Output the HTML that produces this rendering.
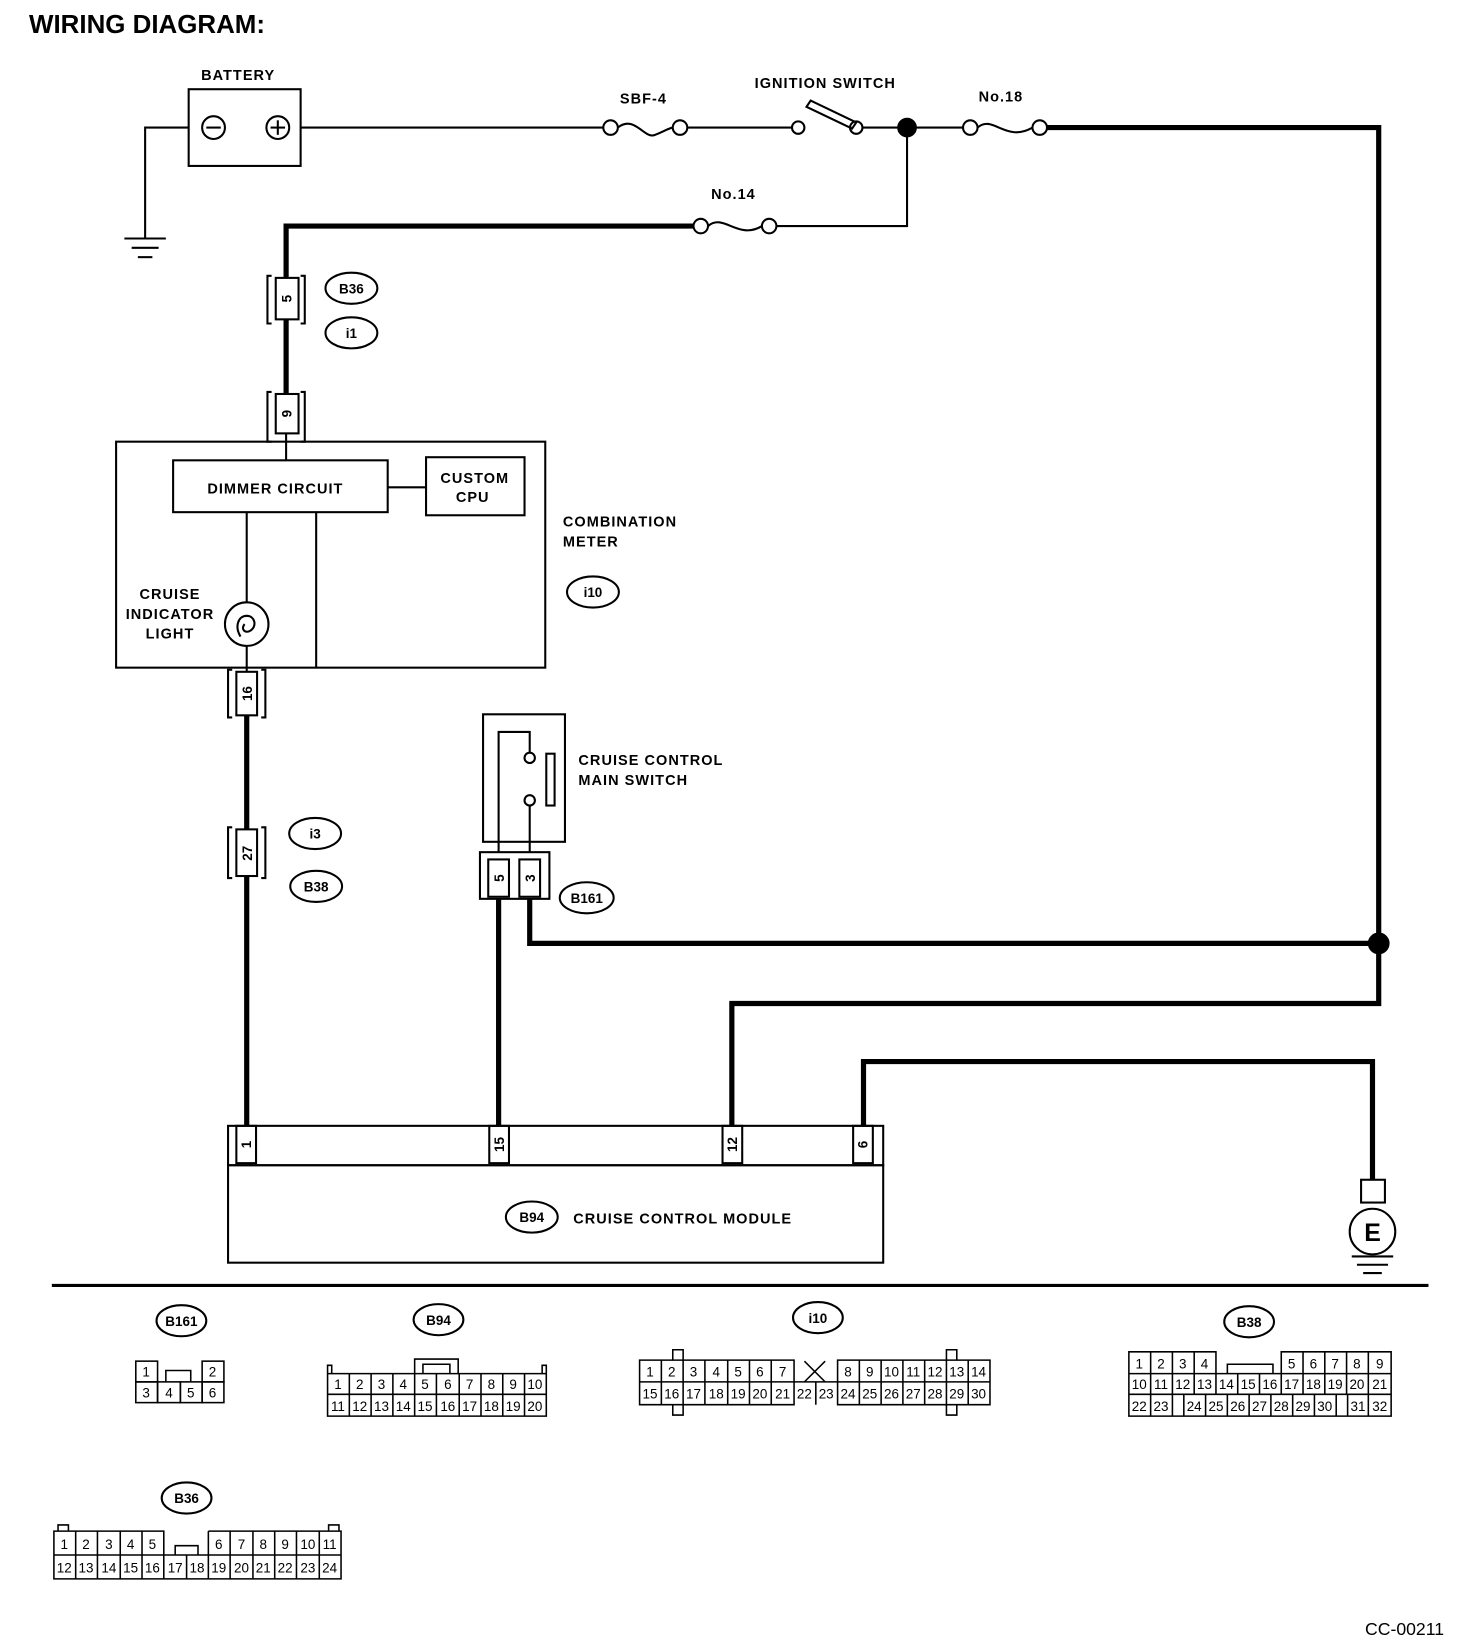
<!DOCTYPE html>
<html><head><meta charset="utf-8"><style>
html,body{margin:0;padding:0;background:#fff;}
svg{display:block;}
text{font-family:"Liberation Sans",sans-serif;fill:#000;}
.l{font-size:14px;font-weight:bold;letter-spacing:1px;}
.p{font-size:13px;text-anchor:middle;}
.o{font-size:13px;font-weight:bold;text-anchor:middle;}
</style></head><body>
<svg width="1472" height="1638" viewBox="0 0 1420 1580" xmlns="http://www.w3.org/2000/svg">
<g fill="none" stroke="#000">
<text x="28" y="32" style="font-size:25px;font-weight:bold;" stroke="none">WIRING DIAGRAM:</text>
<!-- battery -->
<rect x="182" y="86" width="108" height="74" stroke-width="2"/>
<circle cx="206" cy="123" r="11" stroke-width="2"/><line x1="199" y1="123" x2="213" y2="123" stroke-width="2"/>
<circle cx="268" cy="123" r="11" stroke-width="2"/><line x1="261" y1="123" x2="275" y2="123" stroke-width="2"/><line x1="268" y1="116" x2="268" y2="130" stroke-width="2"/>
<polyline points="182,123 140,123 140,230" stroke-width="2"/>
<line x1="120" y1="230" x2="160" y2="230" stroke-width="2"/><line x1="127" y1="239" x2="153" y2="239" stroke-width="2"/><line x1="133" y1="248" x2="147" y2="248" stroke-width="2"/>
<line x1="290" y1="123" x2="582" y2="123" stroke-width="2"/>
<circle cx="589" cy="123" r="7" stroke-width="2"/><circle cx="656" cy="123" r="7" stroke-width="2"/>
<path d="M596,123 C612,110 622,135 632,130 C640,127 644,124 649,123" stroke-width="2"/>
<line x1="663" y1="123" x2="764" y2="123" stroke-width="2"/>
<circle cx="770" cy="123" r="6" stroke-width="2"/><circle cx="826" cy="123" r="6" stroke-width="2"/>
<polygon points="778,103 782,97 826,118 822,124" stroke-width="2"/>
<line x1="832" y1="123" x2="930" y2="123" stroke-width="2"/>
<circle cx="875" cy="123" r="9" fill="#000"/>
<circle cx="936" cy="123" r="7" stroke-width="2"/><circle cx="1003" cy="123" r="7" stroke-width="2"/>
<path d="M943,123 C958,110 970,138 996,123" stroke-width="2"/>
<polyline points="1010,123 1330,123 1330,968 706,968 706,1086" stroke-width="5"/>
<polyline points="875,123 875,218 749,218" stroke-width="2"/>
<circle cx="676" cy="218" r="7" stroke-width="2"/><circle cx="742" cy="218" r="7" stroke-width="2"/>
<path d="M683,218 C698,205 712,232 735,218" stroke-width="2"/>
<polyline points="669,218 276,218 276,268" stroke-width="5"/>
<text class="l" x="194" y="77" stroke="none">BATTERY</text>
<text class="l" x="598" y="100" stroke="none">SBF-4</text>
<text class="l" x="728" y="85" stroke="none">IGNITION SWITCH</text>
<text class="l" x="944" y="98" stroke="none">No.18</text>
<text class="l" x="686" y="192" stroke="none">No.14</text>
<!-- B36 connector 5 -->
<rect x="266" y="268" width="22" height="40" stroke-width="2"/>
<polyline points="262,266 258,266 258,312 262,312" stroke-width="2"/><polyline points="290,266 294,266 294,312 290,312" stroke-width="2"/>
<text class="p" transform="translate(281,288) rotate(-90)" stroke="none" style="font-weight:bold">5</text>
<ellipse cx="339" cy="278" rx="25" ry="15" stroke-width="2"/><text class="o" x="339" y="283" stroke="none">B36</text>
<ellipse cx="339" cy="321" rx="25" ry="15" stroke-width="2"/><text class="o" x="339" y="326" stroke="none">i1</text>
<line x1="276" y1="308" x2="276" y2="380" stroke-width="5"/>
<rect x="266" y="380" width="22" height="38" stroke-width="2"/>
<polyline points="262,426 258,426 258,378 262,378" stroke-width="2"/><polyline points="290,426 294,426 294,378 290,378" stroke-width="2"/>
<text class="p" transform="translate(281,399) rotate(-90)" stroke="none" style="font-weight:bold">9</text>
<line x1="276" y1="418" x2="276" y2="444" stroke-width="2"/>
<!-- combination meter -->
<rect x="112" y="426" width="414" height="218" stroke-width="2"/>
<rect x="167" y="444" width="207" height="50" stroke-width="2"/>
<text class="l" x="200" y="476" stroke="none">DIMMER CIRCUIT</text>
<rect x="411" y="441" width="95" height="56" stroke-width="2"/>
<text class="l" x="458" y="466" stroke="none" text-anchor="middle">CUSTOM</text>
<text class="l" x="456" y="484" stroke="none" text-anchor="middle">CPU</text>
<line x1="374" y1="470" x2="411" y2="470" stroke-width="2"/>
<line x1="238" y1="494" x2="238" y2="581" stroke-width="2"/>
<line x1="305" y1="494" x2="305" y2="644" stroke-width="2"/>
<circle cx="238" cy="602" r="21" stroke-width="2"/>
<path d="M232,614 C226,604 230,594 238,594 C246,594 248,604 242,608 C236,612 232,606 236,602" stroke-width="2"/>
<line x1="238" y1="623" x2="238" y2="644" stroke-width="2"/>
<text class="l" x="164" y="578" stroke="none" text-anchor="middle">CRUISE</text>
<text class="l" x="164" y="597" stroke="none" text-anchor="middle">INDICATOR</text>
<text class="l" x="164" y="616" stroke="none" text-anchor="middle">LIGHT</text>
<text class="l" x="543" y="508" stroke="none">COMBINATION</text>
<text class="l" x="543" y="527" stroke="none">METER</text>
<ellipse cx="572" cy="571" rx="25" ry="15" stroke-width="2"/><text class="o" x="572" y="576" stroke="none">i10</text>
<!-- conn 16 -->
<rect x="228" y="648" width="20" height="42" stroke-width="2"/>
<polyline points="224,646 220,646 220,692 224,692" stroke-width="2"/><polyline points="252,646 256,646 256,692 252,692" stroke-width="2"/>
<text class="p" transform="translate(243,669) rotate(-90)" stroke="none" style="font-weight:bold">16</text>
<line x1="238" y1="644" x2="238" y2="648" stroke-width="2"/>
<line x1="238" y1="690" x2="238" y2="800" stroke-width="5"/>
<rect x="228" y="800" width="20" height="45" stroke-width="2"/>
<polyline points="224,798 220,798 220,847 224,847" stroke-width="2"/><polyline points="252,798 256,798 256,847 252,847" stroke-width="2"/>
<text class="p" transform="translate(243,823) rotate(-90)" stroke="none" style="font-weight:bold">27</text>
<ellipse cx="304" cy="804" rx="25" ry="15" stroke-width="2"/><text class="o" x="304" y="809" stroke="none">i3</text>
<ellipse cx="305" cy="855" rx="25" ry="15" stroke-width="2"/><text class="o" x="305" y="860" stroke="none">B38</text>
<line x1="238" y1="845" x2="238" y2="1086" stroke-width="5"/>
<!-- main switch -->
<rect x="466" y="689" width="79" height="123" stroke-width="2"/>
<polyline points="481,822 481,706 511,706 511,726" stroke-width="2"/>
<circle cx="511" cy="731" r="5" stroke-width="2"/><circle cx="511" cy="772" r="5" stroke-width="2"/>
<line x1="511" y1="777" x2="511" y2="822" stroke-width="2"/>
<rect x="527" y="727" width="8" height="50" stroke-width="2"/>
<text class="l" x="558" y="738" stroke="none">CRUISE CONTROL</text>
<text class="l" x="558" y="757" stroke="none">MAIN SWITCH</text>
<rect x="463" y="822" width="67" height="45" stroke-width="2"/>
<rect x="471" y="829" width="20" height="36" stroke-width="2"/><rect x="501" y="829" width="20" height="36" stroke-width="2"/>
<text class="p" transform="translate(486,847) rotate(-90)" stroke="none" style="font-weight:bold">5</text>
<text class="p" transform="translate(516,847) rotate(-90)" stroke="none" style="font-weight:bold">3</text>
<ellipse cx="566" cy="866" rx="26" ry="15" stroke-width="2"/><text class="o" x="566" y="871" stroke="none">B161</text>
<line x1="481" y1="867" x2="481" y2="1086" stroke-width="5"/>
<polyline points="511,867 511,910 1330,910" stroke-width="5"/>
<circle cx="1330" cy="910" r="10" fill="#000"/>
<polyline points="833,1086 833,1024 1324,1024 1324,1138" stroke-width="5"/>
<!-- ground E -->
<rect x="1313" y="1138" width="23" height="22" stroke-width="2"/>
<circle cx="1324" cy="1188" r="22" stroke-width="2"/>
<text x="1324" y="1197" stroke="none" style="font-size:24px;font-weight:bold;text-anchor:middle">E</text>
<line x1="1304" y1="1212" x2="1344" y2="1212" stroke-width="2"/><line x1="1309" y1="1220" x2="1339" y2="1220" stroke-width="2"/><line x1="1315" y1="1228" x2="1333" y2="1228" stroke-width="2"/>
<!-- module -->
<rect x="220" y="1086" width="632" height="38" stroke-width="2"/>
<rect x="220" y="1124" width="632" height="94" stroke-width="2"/>
<rect x="228" y="1086" width="19" height="36" stroke-width="2"/>
<rect x="472" y="1086" width="19" height="36" stroke-width="2"/>
<rect x="697" y="1086" width="19" height="36" stroke-width="2"/>
<rect x="823" y="1086" width="19" height="36" stroke-width="2"/>
<text class="p" transform="translate(242,1104) rotate(-90)" stroke="none" style="font-weight:bold">1</text>
<text class="p" transform="translate(486,1104) rotate(-90)" stroke="none" style="font-weight:bold">15</text>
<text class="p" transform="translate(711,1104) rotate(-90)" stroke="none" style="font-weight:bold">12</text>
<text class="p" transform="translate(837,1104) rotate(-90)" stroke="none" style="font-weight:bold">6</text>
<ellipse cx="513" cy="1174" rx="25" ry="15" stroke-width="2"/><text class="o" x="513" y="1179" stroke="none">B94</text>
<text class="l" x="553" y="1180" stroke="none">CRUISE CONTROL MODULE</text>
<line x1="50" y1="1240" x2="1378" y2="1240" stroke-width="3"/>
<!-- bottom labels -->
<ellipse cx="175" cy="1274" rx="24" ry="15" stroke-width="2"/><text class="o" x="175" y="1279" stroke="none">B161</text>
<ellipse cx="423" cy="1273" rx="24" ry="15" stroke-width="2"/><text class="o" x="423" y="1278" stroke="none">B94</text>
<ellipse cx="789" cy="1271" rx="24" ry="15" stroke-width="2"/><text class="o" x="789" y="1276" stroke="none">i10</text>
<ellipse cx="1205" cy="1275" rx="24" ry="15" stroke-width="2"/><text class="o" x="1205" y="1280" stroke="none">B38</text>
<ellipse cx="180" cy="1445" rx="24" ry="15" stroke-width="2"/><text class="o" x="180" y="1450" stroke="none">B36</text>
<text x="1393" y="1577" stroke="none" style="font-size:17px;text-anchor:end">CC-00211</text>
</g>
<g fill="none" stroke="#000" stroke-width="1.5">
<!-- B161 grid -->
<rect x="131" y="1313" width="21" height="20"/><rect x="195" y="1313" width="21" height="20"/>
<polyline points="160,1333 160,1322 184,1322 184,1333"/>
<rect x="131" y="1333" width="21" height="20"/><rect x="152" y="1333" width="22" height="20"/><rect x="174" y="1333" width="21" height="20"/><rect x="195" y="1333" width="21" height="20"/>
<!-- B94 -->
<path d="M316,1325h211v41h-211z M316,1345h211 M337,1325v41 M358,1325v41 M379,1325v41 M400,1325v41 M421,1325v41 M443,1325v41 M464,1325v41 M485,1325v41 M506,1325v41 M400,1325v-14h42v14 M408,1325v-9h26v9 M316,1325v-8h4v8 M527,1325v-8h-4v8"/>
<!-- i10 -->
<path d="M617,1312h149v43h-149z M617,1333h338 M638,1312v43 M659,1312v43 M680,1312v43 M702,1312v43 M723,1312v43 M744,1312v43 M766,1333v22 M787,1333v22 M808,1312h147v43h-147z M829,1312v43 M850,1312v43 M871,1312v43 M892,1312v43 M913,1312v43 M934,1312v43 M776,1313l20,20 M796,1313l-20,20 M649,1312v-10h10v10 M649,1355v10h10v-10 M913,1312v-10h10v10 M913,1355v10h10v-10"/>
<!-- B38 -->
<path d="M1089,1304h84v21h-84z M1110,1304v62 M1131,1304v21 M1152,1304v21 M1236,1304h106v21h-106z M1257,1304v21 M1278,1304v21 M1299,1304v21 M1320,1304v21 M1089,1325h253v41h-253z M1089,1345h253 M1131,1325v41 M1152,1325v20 M1173,1325v20 M1194,1325v20 M1215,1325v20 M1236,1325v20 M1257,1325v20 M1278,1325v20 M1299,1325v20 M1320,1325v41 M1142,1345v21 M1163,1345v21 M1184,1345v21 M1205,1345v21 M1226,1345v21 M1247,1345v21 M1268,1345v21 M1289,1345v21 M1300,1345v21 M1184,1325v-9h44v9"/>
<!-- B36 -->
<path d="M52,1477h106v23h-106z M52,1500h277v23h-277z M73,1477v46 M94,1477v46 M116,1477v46 M137,1477v46 M158,1500v23 M180,1500v23 M201,1477v46 M201,1477h128v23 M222,1477v46 M244,1477v46 M265,1477v46 M286,1477v46 M308,1477v46 M169,1500v-9h22v9 M56,1477v-6h10v6 M317,1477v-6h10v6"/>
</g>
<g class="p">
<text class="p" x="141" y="1328">1</text><text class="p" x="205" y="1328">2</text>
<text class="p" x="141" y="1348">3</text><text class="p" x="163" y="1348">4</text><text class="p" x="184" y="1348">5</text><text class="p" x="205" y="1348">6</text>
<text class="p" x="326" y="1340">1</text><text class="p" x="347" y="1340">2</text><text class="p" x="368" y="1340">3</text><text class="p" x="389" y="1340">4</text><text class="p" x="410" y="1340">5</text><text class="p" x="432" y="1340">6</text><text class="p" x="453" y="1340">7</text><text class="p" x="474" y="1340">8</text><text class="p" x="495" y="1340">9</text><text class="p" x="516" y="1340">10</text>
<text class="p" x="326" y="1361">11</text><text class="p" x="347" y="1361">12</text><text class="p" x="368" y="1361">13</text><text class="p" x="389" y="1361">14</text><text class="p" x="410" y="1361">15</text><text class="p" x="432" y="1361">16</text><text class="p" x="453" y="1361">17</text><text class="p" x="474" y="1361">18</text><text class="p" x="495" y="1361">19</text><text class="p" x="516" y="1361">20</text>
<text class="p" x="627" y="1328">1</text><text class="p" x="648" y="1328">2</text><text class="p" x="669" y="1328">3</text><text class="p" x="691" y="1328">4</text><text class="p" x="712" y="1328">5</text><text class="p" x="733" y="1328">6</text><text class="p" x="755" y="1328">7</text>
<text class="p" x="818" y="1328">8</text><text class="p" x="839" y="1328">9</text><text class="p" x="860" y="1328">10</text><text class="p" x="881" y="1328">11</text><text class="p" x="902" y="1328">12</text><text class="p" x="923" y="1328">13</text><text class="p" x="944" y="1328">14</text>
<text class="p" x="627" y="1349">15</text><text class="p" x="648" y="1349">16</text><text class="p" x="669" y="1349">17</text><text class="p" x="691" y="1349">18</text><text class="p" x="712" y="1349">19</text><text class="p" x="733" y="1349">20</text><text class="p" x="755" y="1349">21</text><text class="p" x="776" y="1349">22</text><text class="p" x="797" y="1349">23</text><text class="p" x="818" y="1349">24</text><text class="p" x="839" y="1349">25</text><text class="p" x="860" y="1349">26</text><text class="p" x="881" y="1349">27</text><text class="p" x="902" y="1349">28</text><text class="p" x="923" y="1349">29</text><text class="p" x="944" y="1349">30</text>
<text class="p" x="1099" y="1320">1</text><text class="p" x="1120" y="1320">2</text><text class="p" x="1141" y="1320">3</text><text class="p" x="1162" y="1320">4</text><text class="p" x="1246" y="1320">5</text><text class="p" x="1267" y="1320">6</text><text class="p" x="1288" y="1320">7</text><text class="p" x="1309" y="1320">8</text><text class="p" x="1331" y="1320">9</text>
<text class="p" x="1099" y="1340">10</text><text class="p" x="1120" y="1340">11</text><text class="p" x="1141" y="1340">12</text><text class="p" x="1162" y="1340">13</text><text class="p" x="1183" y="1340">14</text><text class="p" x="1204" y="1340">15</text><text class="p" x="1225" y="1340">16</text><text class="p" x="1246" y="1340">17</text><text class="p" x="1267" y="1340">18</text><text class="p" x="1288" y="1340">19</text><text class="p" x="1309" y="1340">20</text><text class="p" x="1331" y="1340">21</text>
<text class="p" x="1099" y="1361">22</text><text class="p" x="1120" y="1361">23</text><text class="p" x="1152" y="1361">24</text><text class="p" x="1173" y="1361">25</text><text class="p" x="1194" y="1361">26</text><text class="p" x="1215" y="1361">27</text><text class="p" x="1236" y="1361">28</text><text class="p" x="1257" y="1361">29</text><text class="p" x="1278" y="1361">30</text><text class="p" x="1310" y="1361">31</text><text class="p" x="1331" y="1361">32</text>
<text class="p" x="62" y="1494">1</text><text class="p" x="83" y="1494">2</text><text class="p" x="105" y="1494">3</text><text class="p" x="126" y="1494">4</text><text class="p" x="147" y="1494">5</text><text class="p" x="211" y="1494">6</text><text class="p" x="233" y="1494">7</text><text class="p" x="254" y="1494">8</text><text class="p" x="275" y="1494">9</text><text class="p" x="297" y="1494">10</text><text class="p" x="318" y="1494">11</text>
<text class="p" x="62" y="1517">12</text><text class="p" x="83" y="1517">13</text><text class="p" x="105" y="1517">14</text><text class="p" x="126" y="1517">15</text><text class="p" x="147" y="1517">16</text><text class="p" x="169" y="1517">17</text><text class="p" x="190" y="1517">18</text><text class="p" x="211" y="1517">19</text><text class="p" x="233" y="1517">20</text><text class="p" x="254" y="1517">21</text><text class="p" x="275" y="1517">22</text><text class="p" x="297" y="1517">23</text><text class="p" x="318" y="1517">24</text>
</g>
</svg>
</body></html>
